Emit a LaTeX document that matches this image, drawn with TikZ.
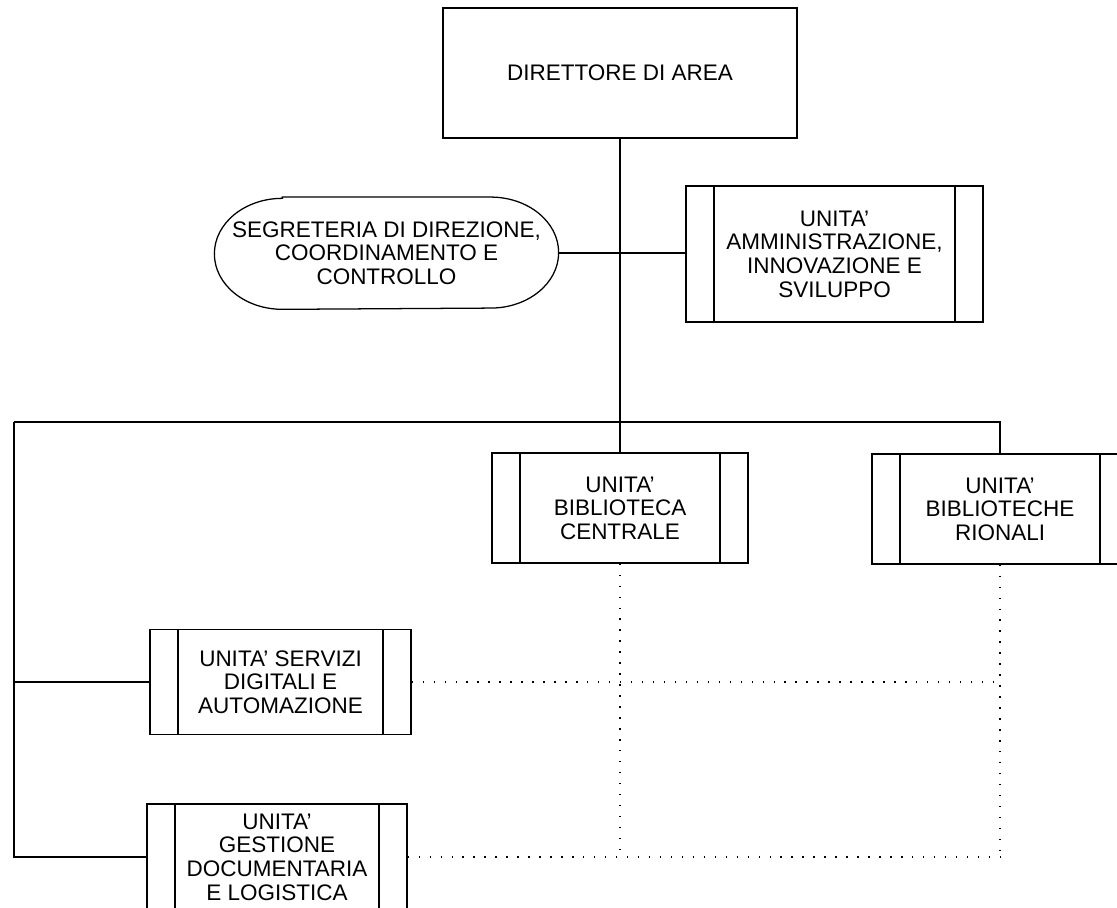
\documentclass[tikz,border=0pt]{standalone}
\usepackage{fontspec}
\setmainfont{Liberation Sans}
\usepackage{tikz}

\begin{document}
\begin{tikzpicture}[
  box/.style={draw, line width=0.9pt, inner sep=0pt, align=center,
    font=\fontsize{16}{16.8}\selectfont},
  unitbox/.style={box, minimum width=6.4cm, minimum height=2.75cm,
    path picture={
      \draw[line width=0.9pt] ([xshift=0.7cm]path picture bounding box.north west)
        -- ([xshift=0.7cm]path picture bounding box.south west);
      \draw[line width=0.9pt] ([xshift=-0.7cm]path picture bounding box.north east)
        -- ([xshift=-0.7cm]path picture bounding box.south east);}},
  conn/.style={line width=1.1pt},
  link/.style={line width=1.3pt, dash pattern=on 1pt off 6.8pt}
]
  \useasboundingbox (0,0) rectangle (27.925,-22.675);

  \node[box, minimum width=8.85cm, minimum height=3.25cm] (dir) at (15.5,-1.825) {DIRETTORE DI AREA};

  \node[box, draw=none, minimum width=8.575cm, minimum height=2.775cm] (seg) at (9.6625,-6.33)
    {SEGRETERIA DI DIREZIONE,\\COORDINAMENTO E\\CONTROLLO};
  \draw[line width=0.9pt] ([xshift=1.7cm]seg.north west) -- ([xshift=-1.7cm]seg.north east)
    arc[start angle=90, end angle=-90, x radius=1.7cm, y radius=1.3875cm]
    -- ([xshift=1.7cm]seg.south west)
    arc[start angle=270, end angle=90, x radius=1.7cm, y radius=1.3875cm] -- cycle;

  \node[unitbox, minimum width=7.425cm, minimum height=3.4cm] (admin) at (20.8625,-6.35)
    {UNITA'\\AMMINISTRAZIONE,\\INNOVAZIONE E\\SVILUPPO};

  \node[unitbox] (centrale) at (15.5,-12.7) {UNITA'\\BIBLIOTECA\\CENTRALE};
  \node[unitbox] (rionali) at (25,-12.725) {UNITA'\\BIBLIOTECHE\\RIONALI};

  \node[unitbox, minimum width=6.525cm, minimum height=2.625cm] (servizi) at (7.0125,-17.05)
    {UNITA' SERVIZI\\DIGITALI E\\AUTOMAZIONE};
  \node[unitbox, minimum width=6.5cm, minimum height=2.65cm] (gestione) at (6.925,-21.425)
    {UNITA'\\GESTIONE\\DOCUMENTARIA\\E LOGISTICA};

  % main line
  \draw[line width=1.5pt] (dir.south) -- (centrale.north);
  \draw[conn] (seg.east) -- (seg.east -| admin.west);

  % bus
  \coordinate (busL) at (0.35,-10.55);
  \draw[conn] (busL) -- (busL -| rionali.north) -- (rionali.north);
  \draw[conn] (busL) |- (servizi.west);
  \draw[conn] (busL) |- (gestione.west);

  % dotted links
  \draw[link] (centrale.south) -- (centrale.south |- gestione.east);
  \draw[link] (rionali.south) -- (rionali.south |- gestione.east);
  \draw[link] (servizi.east) -- (servizi.east -| rionali.south);
  \draw[link] (gestione.east) -- (gestione.east -| rionali.south);

\end{tikzpicture}
\end{document}
